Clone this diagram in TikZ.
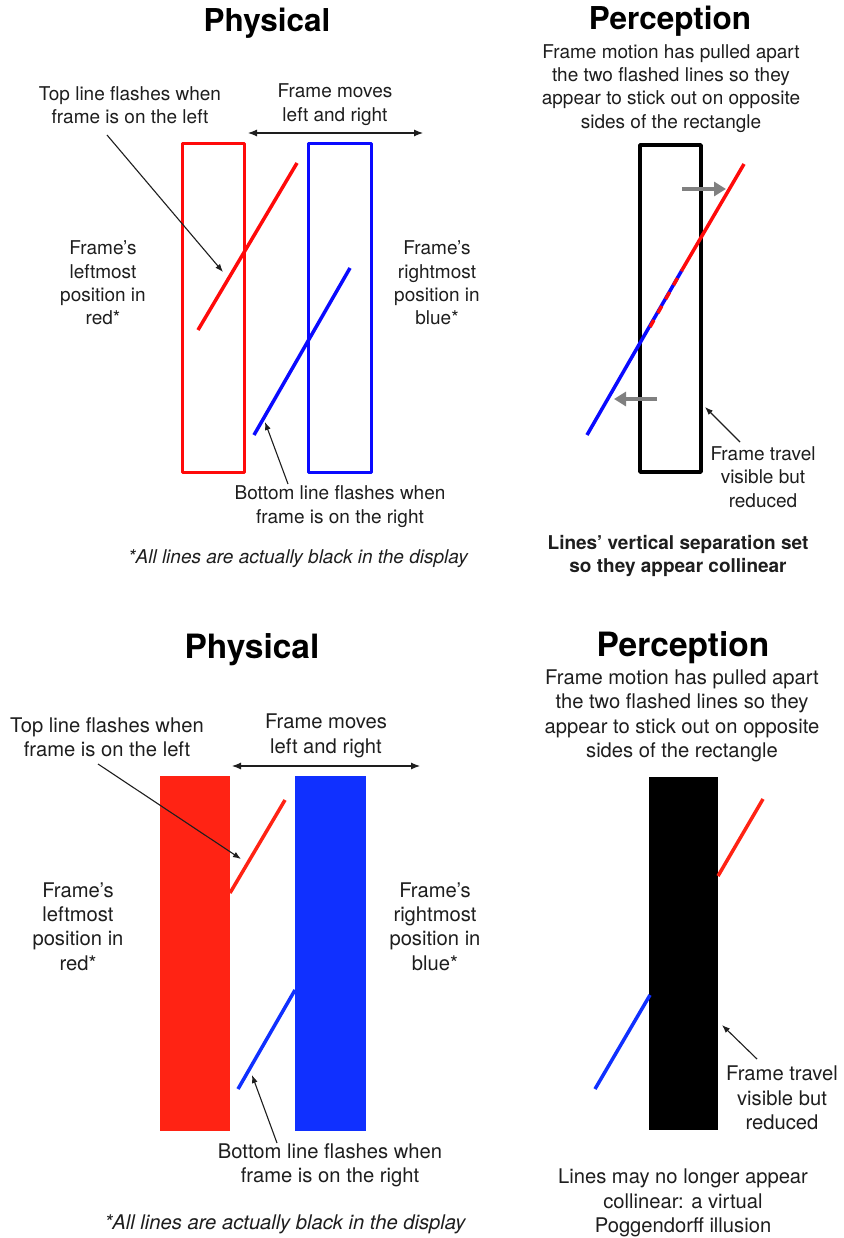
\documentclass[tikz,border=0pt]{standalone}
\usepackage{fontspec}
\setmainfont{TeX Gyre Heros}
\usetikzlibrary{arrows.meta}
\definecolor{txt}{HTML}{1E1E1E}
\definecolor{lred}{HTML}{FF0A0A}
\definecolor{lblue}{HTML}{0A0AFF}
\definecolor{fred}{HTML}{FF2314}
\definecolor{fblue}{HTML}{1030FF}
\definecolor{garrow}{HTML}{808080}
\begin{document}
\begin{tikzpicture}[x=1pt,y=-1pt,
  lblA/.style={text=txt, align=center, inner sep=0pt, font=\fontsize{19}{23.3}\selectfont},
  lblB/.style={text=txt, align=center, inner sep=0pt, font=\fontsize{20.2}{24.4}\selectfont},
  ttlA/.style={text=black, inner sep=0pt, font=\fontsize{31.5}{36}\selectfont\bfseries},
  ttlB/.style={text=black, inner sep=0pt, font=\fontsize{33.5}{38}\selectfont\bfseries},
  pointer/.style={draw=txt, line width=1.1pt, -{Latex[length=8pt,width=6pt]}},
  travel/.style={draw=txt, line width=1.1pt, {Latex[length=9pt,width=7pt]}-{Latex[length=9pt,width=7pt]}},
  motion/.style={draw=garrow, line width=4pt, -{Triangle[length=12pt,width=14pt]}},
  outline/.style={line width=3pt, line join=round},
  flash/.style={line width=3.5pt},
]
\useasboundingbox[fill=white] (0,0) rectangle (843,1238);

% ================= TOP HALF =================
\node[ttlA] (ttl1) at (267,23) {Physical};
\node[ttlA] (ttl2) at (670,21) {Perception};

% frames (physical)
\draw[outline, draw=lred] (182,144) rectangle (244,472);
\draw[outline, draw=lblue] (308,144) rectangle (371,472);
% flashed lines (physical)
\coordinate (r1a) at (297,163); \coordinate (r1b) at (198,330);
\coordinate (b1a) at (350,268); \coordinate (b1b) at (254,435);
\draw[flash, lred] (r1a) -- (r1b);
\draw[flash, lblue] (b1a) -- (b1b);

\node[lblA] (t1) at (130,105.5) {Top line flashes when\\frame is on the left};
\node[lblA] (t2) at (335,104.5) {Frame moves\\left and right};
\node[lblA] (t3) at (103,283) {Frame’s\\leftmost\\position in\\red*};
\node[lblA] (t4) at (437,283) {Frame’s\\rightmost\\position in\\blue*};
\node[lblA] (t5) at (340,506.5) {Bottom line flashes when\\frame is on the right};
\node[lblA, font=\fontsize{19}{23.3}\selectfont\itshape] (t6) at (298,559) {*All lines are actually black in the display};

\coordinate (mvL) at (248,133); \coordinate (mvR) at (423,133);
\draw[travel] (mvL) -- (mvR);
\coordinate (p1s) at (107,135); \coordinate (p1e) at (223,272);
\draw[pointer] (p1s) -- (p1e);
\coordinate (p2s) at (288,484); \coordinate (p2e) at (265,422);
\draw[pointer] (p2s) -- (p2e);

% perception (top)
\node[lblA] (t7) at (671,88.3) {Frame motion has pulled apart\\the two flashed lines so they\\appear to stick out on opposite\\sides of the rectangle};
\draw[line width=3.5pt, line join=round, draw=black] (640,145) rectangle (701,472);
\coordinate (pr1) at (744,164); \coordinate (pov1) at (682,270);
\coordinate (pov2) at (650,327); \coordinate (pb1) at (587,435);
\draw[flash, lblue] (pb1) -- (pov1);
\draw[flash, lred] (pr1) -- (pov1);
\draw[flash, lred, dash pattern=on 8pt off 8pt] (pov2) -- (pov1);
\coordinate (ga1) at (682,189); \coordinate (ga2) at (726,189);
\draw[motion] (ga1) -- (ga2);
\coordinate (gb1) at (657,399); \coordinate (gb2) at (614,399);
\draw[motion] (gb1) -- (gb2);

\node[lblA] (t8) at (763,477) {Frame travel\\visible but\\reduced};
\coordinate (p3s) at (740,442); \coordinate (p3e) at (705,407);
\draw[pointer] (p3s) -- (p3e);
\node[lblA, font=\fontsize{19}{23.3}\selectfont\bfseries] (t9) at (678,556) {Lines’ vertical separation set\\so they appear collinear};

% ================= BOTTOM HALF =================
\node[ttlB] (ttl3) at (252,650) {Physical};
\node[ttlB] (ttl4) at (683,648) {Perception};

\fill[fred] (160,776) rectangle (230,1131);
\fill[fblue] (295,776) rectangle (366,1131);
\coordinate (r2a) at (285,800); \coordinate (r2b) at (230,893);
\coordinate (b2a) at (295,990); \coordinate (b2b) at (238,1089);
\draw[flash, fred] (r2a) -- (r2b);
\draw[flash, fblue] (b2a) -- (b2b);

\node[lblB] (b1) at (107,737) {Top line flashes when\\frame is on the left};
\node[lblB] (b2) at (326,736) {Frame moves\\left and right};
\node[lblB] (b3) at (78,926.5) {Frame’s\\leftmost\\position in\\red*};
\node[lblB] (b4) at (435,926.5) {Frame’s\\rightmost\\position in\\blue*};
\node[lblB] (b5) at (330,1165) {Bottom line flashes when\\frame is on the right};
\node[lblB, font=\fontsize{20.2}{24.4}\selectfont\itshape] (b6) at (285,1224) {*All lines are actually black in the display};

\coordinate (mv2L) at (232,766); \coordinate (mv2R) at (420,766);
\draw[travel] (mv2L) -- (mv2R);
\coordinate (q1s) at (98,764); \coordinate (q1e) at (241,859);
\draw[pointer] (q1s) -- (q1e);
\coordinate (q2s) at (277,1143); \coordinate (q2e) at (252,1075);
\draw[pointer] (q2s) -- (q2e);

% perception (bottom)
\node[lblB] (b7) at (682,716) {Frame motion has pulled apart\\the two flashed lines so they\\appear to stick out on opposite\\sides of the rectangle};
\fill[black] (649,777) rectangle (718,1130);
\coordinate (pr2a) at (763,799); \coordinate (pr2b) at (718,876);
\coordinate (pb2a) at (650,995); \coordinate (pb2b) at (595,1089);
\draw[flash, fred] (pr2a) -- (pr2b);
\draw[flash, fblue] (pb2a) -- (pb2b);

\node[lblB] (b8) at (782,1098) {Frame travel\\visible but\\reduced};
\coordinate (q3s) at (757,1059); \coordinate (q3e) at (722,1025);
\draw[pointer] (q3s) -- (q3e);
\node[lblB] (b9) at (683,1203) {Lines may no longer appear\\collinear: a virtual\\Poggendorff illusion};
\end{tikzpicture}
\end{document}
